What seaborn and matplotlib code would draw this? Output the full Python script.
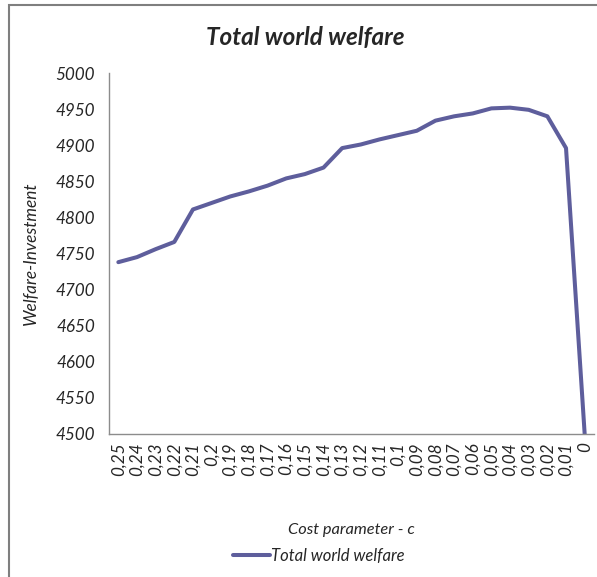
import matplotlib
matplotlib.use('Agg')
import matplotlib.pyplot as plt
import seaborn as sns
import pandas as pd
from matplotlib.patches import Rectangle

sns.set_style('white')
plt.rcParams['font.family'] = ['Lato', 'DejaVu Sans']

cost_labels = ['0,25', '0,24', '0,23', '0,22', '0,21', '0,2', '0,19', '0,18', '0,17',
               '0,16', '0,15', '0,14', '0,13', '0,12', '0,11', '0,1', '0,09', '0,08',
               '0,07', '0,06', '0,05', '0,04', '0,03', '0,02', '0,01', '0']
welfare = [4738, 4745, 4756, 4766, 4811, 4820, 4829, 4836, 4844, 4854, 4860, 4869, 4896,
           4901, 4908, 4914, 4920, 4934, 4940, 4944, 4951, 4952, 4949, 4940, 4896, 4500]

df = pd.DataFrame({'c': cost_labels, 'welfare': welfare})

line_color = '#5e5e9c'
axis_color = '#8c8c8c'

fig = plt.figure(figsize=(5.97, 5.77), dpi=100)
ax = fig.add_axes([109 / 597, 1 - 434 / 577, (594 - 109) / 597, (434 - 73) / 577])

sns.lineplot(data=df, x='c', y='welfare', sort=False, color=line_color,
             linewidth=2.9, ax=ax, label='Total world welfare')

ax.set_xlim(-0.5, len(cost_labels) - 0.5)
ax.set_ylim(4500, 5000)
ax.set_yticks(range(4500, 5001, 50))
ax.tick_params(axis='y', direction='out', length=4, color=axis_color, width=1,
               labelsize=12.3, pad=6)
ax.tick_params(axis='x', length=0, labelsize=12.3, pad=6)
for lab in ax.get_yticklabels():
    lab.set_fontstyle('italic')
ax.set_xticks(range(len(cost_labels)))
ax.set_xticklabels(cost_labels, rotation=90, fontstyle='italic')

for side in ['top', 'right']:
    ax.spines[side].set_visible(False)
for side in ['left', 'bottom']:
    ax.spines[side].set_color(axis_color)
    ax.spines[side].set_linewidth(1)

ax.set_xlabel('Cost parameter - c', fontsize=11.8, fontstyle='italic', labelpad=34)
ax.set_ylabel('Welfare-Investment', fontsize=12.4, fontstyle='italic', labelpad=12)

fig.text(305 / 597, 1 - 38 / 577, 'Total world welfare', ha='center', va='center',
         fontsize=17.5, fontweight='bold', fontstyle='italic')

ax.legend(loc='center', bbox_to_anchor=(319 / 597, 1 - 556 / 577),
          bbox_transform=fig.transFigure, frameon=False, handlelength=2.2,
          handletextpad=0.1, prop={'style': 'italic', 'size': 12})

fig.patches.append(Rectangle((9 / 597, -0.01), 1, 1 - 5 / 577 + 0.01,
                             transform=fig.transFigure, fill=False,
                             edgecolor='#7f7f7f', linewidth=1.5))

fig.savefig('out.png', dpi=100)
